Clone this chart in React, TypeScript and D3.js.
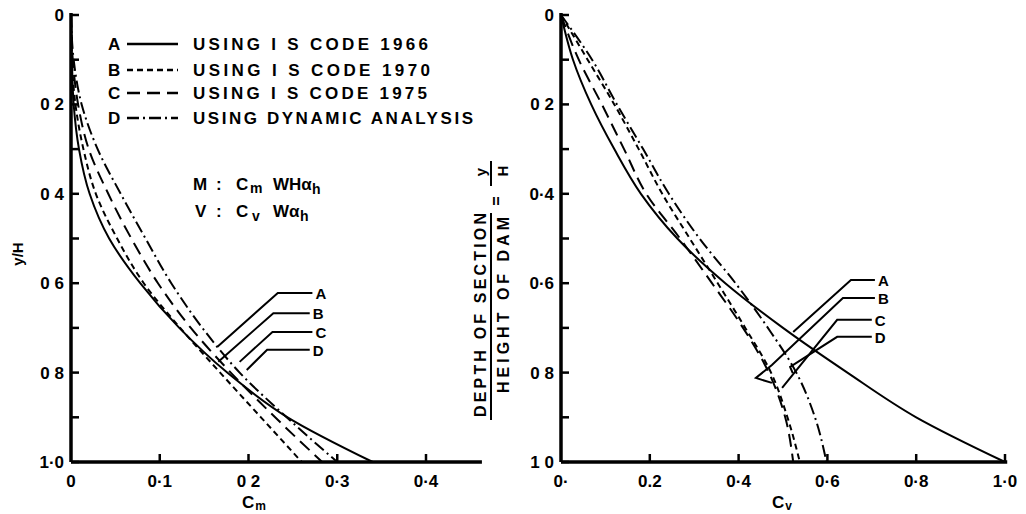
import React, { useEffect, useRef } from "react";
import * as d3 from "d3";

// depth ratio y/H at which the curves were read
const depths = [0, 0.1, 0.2, 0.3, 0.4, 0.5, 0.6, 0.7, 0.8, 0.9, 1.0];

// moment coefficient Cm (left panel)
const cmA = [0, 0.001, 0.003, 0.009, 0.021, 0.043, 0.078, 0.122, 0.176, 0.244, 0.34];
const cmB = [0, 0.001, 0.005, 0.014, 0.028, 0.052, 0.082, 0.123, 0.168, 0.214, 0.26];
const cmC = [0, 0.002, 0.008, 0.02, 0.042, 0.068, 0.098, 0.135, 0.18, 0.23, 0.283];
const cmD = [0, 0.003, 0.012, 0.03, 0.056, 0.084, 0.113, 0.148, 0.19, 0.243, 0.3];

// shear coefficient Cv (right panel)
const cvA = [0, 0.027, 0.068, 0.12, 0.18, 0.262, 0.37, 0.5, 0.645, 0.8, 1.0];
const cvB = [0, 0.06, 0.12, 0.175, 0.228, 0.29, 0.353, 0.415, 0.473, 0.51, 0.538];
const cvC = [0, 0.04, 0.092, 0.142, 0.192, 0.268, 0.34, 0.41, 0.468, 0.505, 0.523];
const cvD = [0, 0.07, 0.126, 0.185, 0.243, 0.312, 0.393, 0.466, 0.53, 0.572, 0.598];

const keys = ["A", "B", "C", "D"];
const legendLabels = [
  "USING I S CODE 1966",
  "USING I S CODE 1970",
  "USING I S CODE 1975",
  "USING DYNAMIC ANALYSIS",
];
const dashes = ["", "6,4", "13,7", "12,4,2,4"];

const yTicks = [0, 0.1, 0.2, 0.3, 0.4, 0.5, 0.6, 0.7, 0.8, 0.9, 1.0];
const yLabelVals = [0, 0.2, 0.4, 0.6, 0.8, 1.0];
const leftYLabels = ["0", "0 2", "0 4", "0 6", "0 8", "1·0"];
const rightYLabels = ["0", "0 2", "0·4", "0·6", "0 8", "1 0"];

const leftXTicks = [0.1, 0.2, 0.3, 0.4];
const leftXLabelVals = [0, 0.1, 0.2, 0.3, 0.4];
const leftXLabels = ["0", "0·1", "0 2", "0·3", "0·4"];
const rightXTicks = [0.2, 0.4, 0.6, 0.8, 1.0];
const rightXLabelVals = [0, 0.2, 0.4, 0.6, 0.8, 1.0];
const rightXLabels = ["0·", "0.2", "0·4", "0·6", "0·8", "1·0"];

// leader lines, [coefficient, depth] from label end to curve
const leftLeaders: [number, number][][] = [
  [[0.272, 0.622], [0.233, 0.622], [0.165, 0.742]],
  [[0.269, 0.667], [0.228, 0.667], [0.166, 0.776]],
  [[0.272, 0.709], [0.227, 0.709], [0.19, 0.776]],
  [[0.269, 0.749], [0.221, 0.749], [0.198, 0.794]],
];
const rightLeaders: [number, number][][] = [
  [[0.707, 0.593], [0.653, 0.593], [0.523, 0.709]],
  [[0.707, 0.633], [0.635, 0.633], [0.475, 0.783], [0.439, 0.812], [0.475, 0.823]],
  [[0.7, 0.682], [0.622, 0.682], [0.498, 0.834]],
  [[0.7, 0.72], [0.622, 0.72], [0.516, 0.787], [0.522, 0.801]],
];

const font = "'Liberation Sans', Arial, sans-serif";

const App: React.FC = () => {
  const svgRef = useRef<SVGSVGElement>(null);
  const width = 1026;
  const height = 514;

  useEffect(() => {
    const svg = d3.select(svgRef.current);
    svg.selectAll("*").remove();

    const y = d3.scaleLinear().domain([0, 1]).range([15, 462]);
    const xLeft = d3.scaleLinear().domain([0, 0.4]).range([71, 426]);
    const xRight = d3.scaleLinear().domain([0, 1]).range([561, 1005]);

    const drawPanel = (
      x: d3.ScaleLinear<number, number>,
      xMax: number,
      series: number[][],
      xTicks: number[],
      xLabelVals: number[],
      xLabels: string[],
      yLabels: string[],
      leaders: [number, number][][],
      titleX: number,
      sub: string
    ) => {
      const g = svg.append("g");
      const x0 = x(0);

      // curves
      const line = d3
        .line<number>()
        .x((d) => x(d))
        .y((_, i) => y(depths[i]))
        .curve(d3.curveMonotoneY);
      series.forEach((s, i) => {
        g.append("path")
          .attr("d", line(s))
          .attr("fill", "none")
          .attr("stroke", "#000")
          .attr("stroke-width", 2)
          .attr("stroke-dasharray", dashes[i] || null);
      });

      // axes
      g.append("line")
        .attr("x1", x0).attr("x2", x0)
        .attr("y1", y(0) - 2).attr("y2", y(1))
        .attr("stroke", "#000").attr("stroke-width", 3.5);
      g.append("line")
        .attr("x1", x0).attr("x2", x(xMax))
        .attr("y1", y(1)).attr("y2", y(1))
        .attr("stroke", "#000").attr("stroke-width", 3.5);

      g.selectAll(".yt")
        .data(yTicks)
        .enter()
        .append("line")
        .attr("x1", x0).attr("x2", x0 + 8)
        .attr("y1", (d) => y(d)).attr("y2", (d) => y(d))
        .attr("stroke", "#000").attr("stroke-width", 2.5);
      g.selectAll(".xt")
        .data(xTicks)
        .enter()
        .append("line")
        .attr("x1", (d) => x(d)).attr("x2", (d) => x(d))
        .attr("y1", y(1)).attr("y2", y(1) - 8)
        .attr("stroke", "#000").attr("stroke-width", 2.5);

      g.selectAll(".yl")
        .data(yLabelVals)
        .enter()
        .append("text")
        .attr("x", x0 - 7)
        .attr("y", (d) => y(d) + 6)
        .attr("text-anchor", "end")
        .attr("font-family", font)
        .attr("font-weight", "bold")
        .attr("font-size", 17)
        .text((_, i) => yLabels[i]);
      g.selectAll(".xl")
        .data(xLabelVals)
        .enter()
        .append("text")
        .attr("x", (d) => x(d))
        .attr("y", 487)
        .attr("text-anchor", "middle")
        .attr("font-family", font)
        .attr("font-weight", "bold")
        .attr("font-size", 17)
        .text((_, i) => xLabels[i]);

      // axis title
      const t = g.append("text")
        .attr("x", titleX)
        .attr("y", 508)
        .attr("font-family", font)
        .attr("font-weight", "bold")
        .attr("font-size", 17);
      t.append("tspan").text("C");
      t.append("tspan").attr("font-size", 12).attr("dx", 1).attr("dy", 2).text(sub);

      // leaders and labels
      const leaderLine = d3
        .line<[number, number]>()
        .x((d) => x(d[0]))
        .y((d) => y(d[1]));
      leaders.forEach((pts, i) => {
        g.append("path")
          .attr("d", leaderLine(pts))
          .attr("fill", "none")
          .attr("stroke", "#000")
          .attr("stroke-width", 2);
        g.append("text")
          .attr("x", x(pts[0][0]) + 3)
          .attr("y", y(pts[0][1]) + 6)
          .attr("font-family", font)
          .attr("font-weight", "bold")
          .attr("font-size", 15)
          .text(keys[i]);
      });
    };

    drawPanel(xLeft, 0.463, [cmA, cmB, cmC, cmD], leftXTicks, leftXLabelVals,
      leftXLabels, leftYLabels, leftLeaders, 242, "m");
    drawPanel(xRight, 1.005, [cvA, cvB, cvC, cvD], rightXTicks, rightXLabelVals,
      rightXLabels, rightYLabels, rightLeaders, 772, "v");

    // legend
    const rows = [50, 76, 99, 124];
    const textLen = [235, 237, 234, 280];
    keys.forEach((k, i) => {
      svg.append("text")
        .attr("x", 108).attr("y", rows[i])
        .attr("font-family", font).attr("font-weight", "bold").attr("font-size", 17)
        .text(k);
      svg.append("line")
        .attr("x1", 127).attr("x2", 178)
        .attr("y1", rows[i] - 6).attr("y2", rows[i] - 6)
        .attr("stroke", "#000").attr("stroke-width", 2.5)
        .attr("stroke-dasharray", dashes[i] || null);
      svg.append("text")
        .attr("x", 193).attr("y", rows[i])
        .attr("font-family", font).attr("font-weight", "bold").attr("font-size", 17)
        .attr("textLength", textLen[i]).attr("lengthAdjust", "spacing")
        .text(legendLabels[i]);
    });

    // formulas
    const formula = (yb: number, parts: [string, number, number, boolean][]) => {
      const t = svg.append("text")
        .attr("y", yb)
        .attr("font-family", font).attr("font-weight", "bold").attr("font-size", 17);
      parts.forEach(([s, px, dy, small]) => {
        t.append("tspan")
          .attr("x", px)
          .attr("y", yb + dy)
          .attr("font-size", small ? 14 : 17)
          .text(s);
      });
    };
    formula(190, [
      ["M", 193, 0, false], [":", 216, 0, false], ["C", 236, 0, false],
      ["m", 250, 3, true], ["WHα", 273, 0, false], ["h", 312, 4, true],
    ]);
    formula(217, [
      ["V", 195, 0, false], [":", 216, 0, false], ["C", 236, 0, false],
      ["v", 252, 4, true], ["Wα", 273, 0, false], ["h", 300, 4, true],
    ]);

    // left y title
    svg.append("text")
      .attr("transform", "translate(23,254) rotate(-90)")
      .attr("text-anchor", "middle")
      .attr("font-family", font).attr("font-weight", "bold").attr("font-size", 15)
      .text("y/H");

    // right y title (fraction)
    svg.append("text")
      .attr("transform", "translate(486,315) rotate(-90)")
      .attr("text-anchor", "middle")
      .attr("font-family", font).attr("font-weight", "bold").attr("font-size", 16)
      .attr("textLength", 204).attr("lengthAdjust", "spacing")
      .text("DEPTH OF SECTION");
    svg.append("text")
      .attr("transform", "translate(509,305) rotate(-90)")
      .attr("text-anchor", "middle")
      .attr("font-family", font).attr("font-weight", "bold").attr("font-size", 16)
      .attr("textLength", 176).attr("lengthAdjust", "spacing")
      .text("HEIGHT OF DAM");
    svg.append("line")
      .attr("x1", 491).attr("x2", 491).attr("y1", 213).attr("y2", 420)
      .attr("stroke", "#000").attr("stroke-width", 2);
    svg.append("text")
      .attr("transform", "translate(502,201) rotate(-90)")
      .attr("text-anchor", "middle")
      .attr("font-family", font).attr("font-weight", "bold").attr("font-size", 16)
      .text("=");
    svg.append("text")
      .attr("transform", "translate(486,172) rotate(-90)")
      .attr("text-anchor", "middle")
      .attr("font-family", font).attr("font-weight", "bold").attr("font-size", 15)
      .text("y");
    svg.append("text")
      .attr("transform", "translate(508,171) rotate(-90)")
      .attr("text-anchor", "middle")
      .attr("font-family", font).attr("font-weight", "bold").attr("font-size", 15)
      .text("H");
    svg.append("line")
      .attr("x1", 491).attr("x2", 491).attr("y1", 161).attr("y2", 186)
      .attr("stroke", "#000").attr("stroke-width", 2);
  }, []);

  return (
    <svg
      ref={svgRef}
      width={width}
      height={height}
      viewBox={`0 0 ${width} ${height}`}
      style={{ position: "absolute", left: 0, top: 0, background: "#fff" }}
    ></svg>
  );
};

export default App;
